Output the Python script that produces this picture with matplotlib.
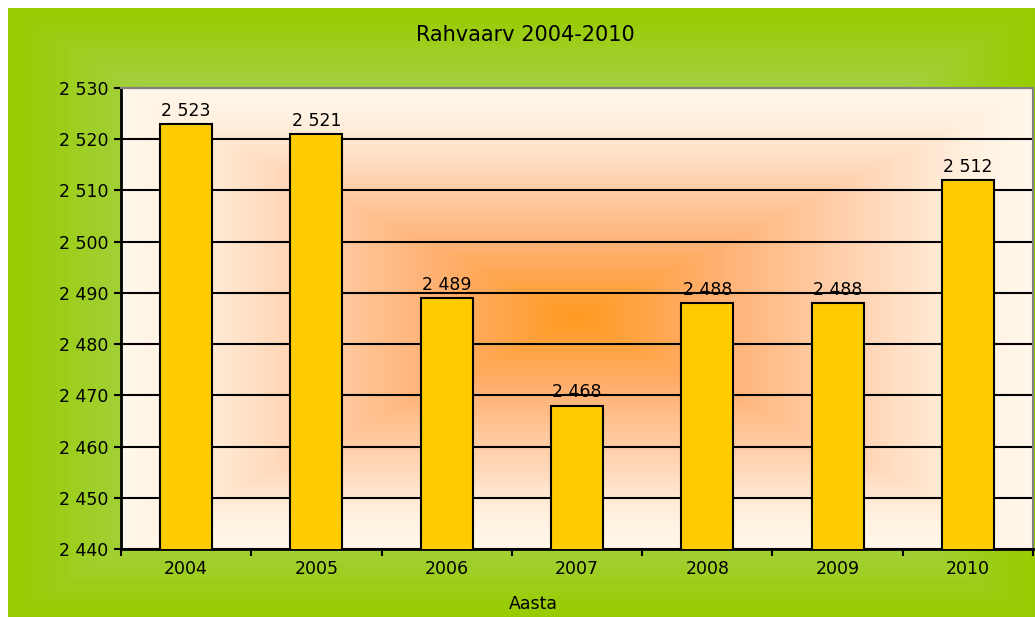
import matplotlib
matplotlib.use("Agg")
import matplotlib.pyplot as plt
import matplotlib.colors as mcolors
import numpy as np

# --- data ---
years = ["2004", "2005", "2006", "2007", "2008", "2009", "2010"]
population = [2523, 2521, 2489, 2468, 2488, 2488, 2512]
y_ticks = [2440, 2450, 2460, 2470, 2480, 2490, 2500, 2510, 2520, 2530]

title = "Rahvaarv 2004-2010"
xlabel = "Aasta"

plt.rcParams['font.family'] = ['DejaVu Sans']


def fmt(v):
    return f"{v:,}".replace(",", " ")


def rect_gradient(w, h, stops, power=1.0):
    """Excel-style 'from center' rectangular gradient."""
    xs = np.linspace(-1, 1, w)
    ys = np.linspace(-1, 1, h)
    X, Y = np.meshgrid(xs, ys)
    t = np.clip(np.maximum(np.abs(X), np.abs(Y)), 0, 1) ** power
    cmap = mcolors.LinearSegmentedColormap.from_list("g", stops)
    return cmap(t)


W, H = 1035, 617
fig = plt.figure(figsize=(W / 100, H / 100), dpi=100)
fig.patch.set_facecolor('white')

# green outer background
bg = fig.add_axes([8 / W, 0, (W - 8) / W, (H - 8) / H])
bg.imshow(rect_gradient(300, 200, [(0, '#B4DA78'), (0.65, '#A8D25A'), (1, '#99CC00')]),
          aspect='auto', extent=[0, 1, 0, 1], interpolation='bilinear')
bg.set_axis_off()
bg.set_zorder(-1)

# plot area
left, right, top, bottom = 121, 1033, 88, 549
ax = fig.add_axes([left / W, (H - bottom) / H, (right - left) / W, (bottom - top) / H])
ax.imshow(rect_gradient(400, 250, [(0, '#FF9A20'), (0.3, '#FFB070'), (0.6, '#FFD2B0'),
                                   (0.85, '#FFF0DE'), (1, '#FFF8EC')]),
          aspect='auto', extent=[0, 1, 0, 1], transform=ax.transAxes,
          interpolation='bilinear', zorder=0)

x = np.arange(len(years))
ax.bar(x, population, width=0.4, bottom=0, color='#FFCC00', edgecolor='black',
       linewidth=1.5, zorder=3)

for xi, v in zip(x, population):
    ax.annotate(fmt(v), (xi, v), xytext=(0, 3), textcoords='offset points',
                ha='center', va='bottom', fontsize=12.5, zorder=4)

ax.set_xlim(-0.5, len(years) - 0.5)
ax.set_ylim(y_ticks[0], y_ticks[-1])
ax.set_yticks(y_ticks)
ax.set_yticklabels([fmt(t) for t in y_ticks], fontsize=12.5)
ax.yaxis.grid(True, color='black', linewidth=1.5, zorder=1)
ax.set_axisbelow(True)

ax.set_xticks(x)
ax.set_xticklabels(years, fontsize=12.5)
ax.tick_params(axis='x', length=0, pad=8)
ax.set_xticks(np.arange(-0.5, len(years)), minor=True)
ax.tick_params(axis='x', which='minor', length=5, width=1.5, color='black')
ax.tick_params(axis='y', length=5, width=1.5, color='black', pad=4)

for s in ['left', 'bottom']:
    ax.spines[s].set_linewidth(2)
    ax.spines[s].set_color('black')
for s in ['top', 'right']:
    ax.spines[s].set_linewidth(1.5)
    ax.spines[s].set_color('#808080')

fig.text(525 / W, 1 - 35 / H, title, ha='center', va='center', fontsize=15)
fig.text(533 / W, 1 - 604 / H, xlabel, ha='center', va='center', fontsize=12.5)

fig.savefig("out.png", dpi=100)
